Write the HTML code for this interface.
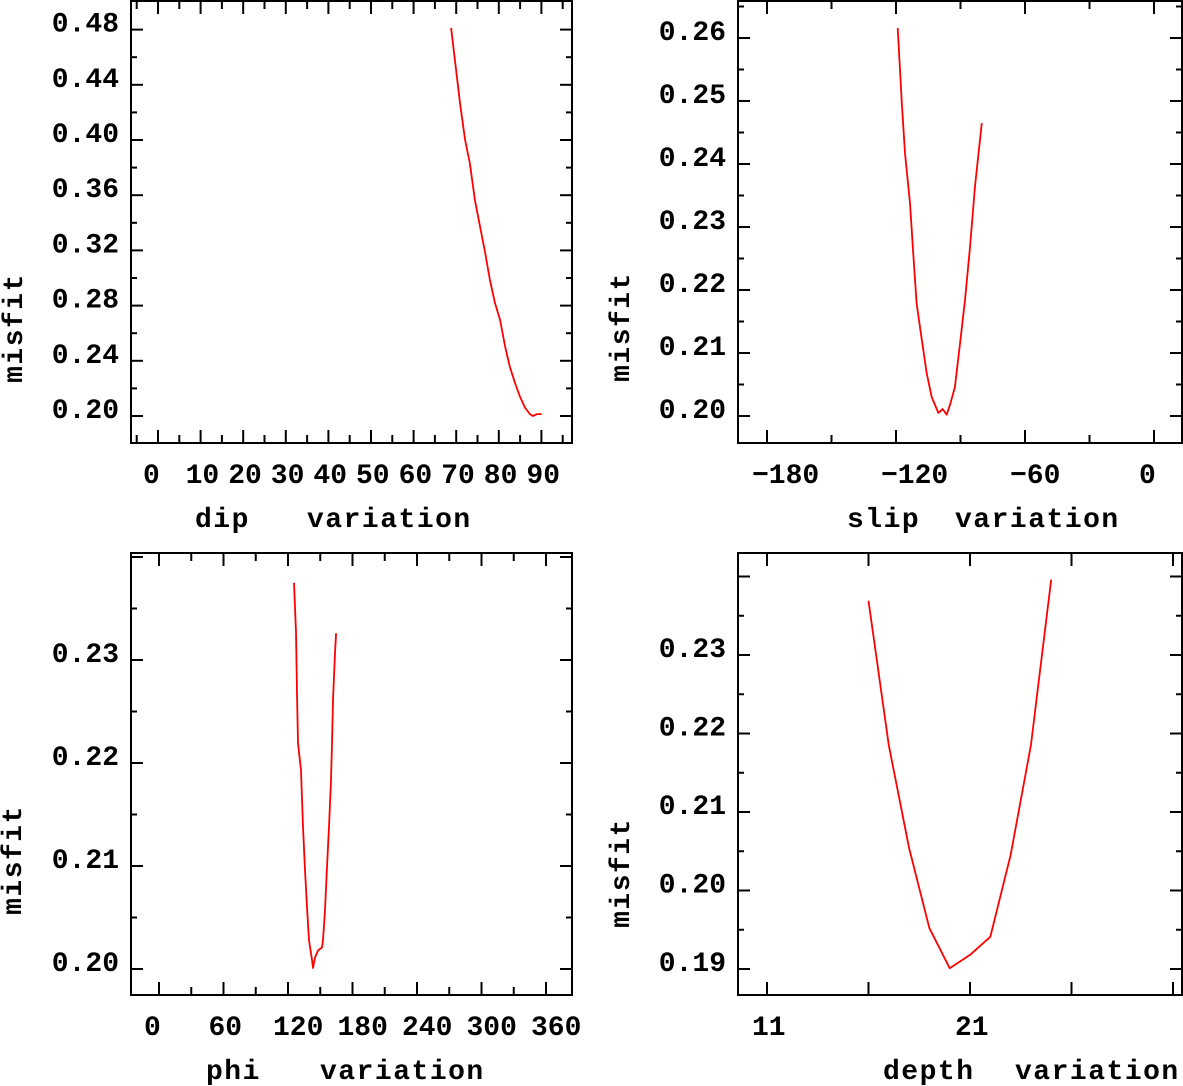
<!DOCTYPE html>
<html><head><meta charset="utf-8"><style>
html,body{margin:0;padding:0;background:#fff;}
svg{display:block;}
text{font-family:"Liberation Mono",monospace;font-weight:bold;fill:#000;}
</style></head><body>
<svg id="chart" width="1183" height="1086" viewBox="0 0 1183 1086" xmlns="http://www.w3.org/2000/svg"></svg>
<script>
// Panel 1: dip
const dipX = [68.8,69.7,70.9,72.1,73.2,74.4,75.6,76.8,77.9,79.1,80.3,81.5,82.6,83.8,85.0,86.2,87.3,88.0,89.0,90.1];
const dipY = [0.4812,0.4580,0.4268,0.4000,0.3833,0.3565,0.3370,0.3181,0.2986,0.2819,0.2696,0.2500,0.2355,0.2239,0.2138,0.2058,0.2014,0.2000,0.2014,0.2014];
const dipXTicks = ["0","10","20","30","40","50","60","70","80","90"];
const dipYTicks = ["0.20","0.24","0.28","0.32","0.36","0.40","0.44","0.48"];
// Panel 2: slip
const slipX = [-119.2,-117.3,-115.8,-113.5,-112,-110.4,-108,-105.7,-103.4,-100.3,-98.3,-96.4,-94.6,-92.6,-90.2,-87.9,-85.6,-83.3,-81.3,-80.1];
const slipY = [0.2616,0.2497,0.2417,0.2338,0.2259,0.2179,0.2121,0.2068,0.2030,0.2005,0.2011,0.2002,0.2021,0.2046,0.2116,0.2184,0.2268,0.2363,0.2427,0.2465];
const slipXTicks = ["−180","−120","−60","0"];
const slipYTicks = ["0.20","0.21","0.22","0.23","0.24","0.25","0.26"];
// Panel 3: phi
const phiX = [125.6,127.4,128.4,129.3,132.1,134,135.8,137.7,139.5,142.3,143.3,145.1,147.9,151.6,152.6,154.4,156.3,158.1,160,160.9,161.9,163.7,164.7];
const phiY = [0.2375,0.2327,0.2268,0.2219,0.2193,0.2138,0.2096,0.2060,0.2028,0.2009,0.2001,0.2011,0.2018,0.2021,0.2028,0.2057,0.2099,0.2138,0.2183,0.2219,0.2261,0.2307,0.2326];
const phiXTicks = ["0","60","120","180","240","300","360"];
const phiYTicks = ["0.20","0.21","0.22","0.23"];
// Panel 4: depth
const depthX = [16,17,18,19,20,21,22,23,24,25];
const depthY = [0.2369,0.2185,0.2054,0.1952,0.1901,0.1918,0.1941,0.2045,0.2185,0.2396];
const depthXTicks = ["11","21"];
const depthYTicks = ["0.19","0.20","0.21","0.22","0.23"];

const NS = "http://www.w3.org/2000/svg";
const svg = document.getElementById('chart');
function mk(tag, attrs, parent){
  const e = document.createElementNS(NS, tag);
  for (const k in attrs) e.setAttribute(k, attrs[k]);
  (parent||svg).appendChild(e);
  return e;
}
function num(s){ return parseFloat(s.replace('−','-')); }

function panel(p){
  const g = mk('g', {});
  
  
  const xs = v => p.x0 + (v - p.xv0) * p.xk;
  const ys = v => p.y0 - (v - p.yv0) * p.yk;
  const box = mk('rect', {x:p.L, y:p.T, width:p.R-p.L, height:p.B-p.T, fill:'none', stroke:'#000', 'stroke-width':2}, g);
  
  
  // x ticks
  for (let v = p.xMinorStart; v <= p.xMinorEnd + 1e-9; v += p.xMinor){
    const px = xs(v);
    if (px < p.L + 1 || px > p.R - 1) continue;
    const major = Math.abs(((v - p.xMajorBase) / p.xMajor) - Math.round((v - p.xMajorBase) / p.xMajor)) < 1e-6;
    const len = major ? 13 : 8;
    const t1 = mk('line', {x1:px, x2:px, y1:p.B, y2:p.B-len, stroke:'#000', 'stroke-width':2}, g);
    
    
    const t2 = mk('line', {x1:px, x2:px, y1:p.T, y2:p.T+len, stroke:'#000', 'stroke-width':2}, g);
    
    
  }
  // y ticks
  for (let v = p.yMinorStart; v <= p.yMinorEnd + 1e-9; v += p.yMinor){
    const py = ys(v);
    if (py < p.T + 1 || py > p.B - 1) continue;
    const major = Math.abs(((v - p.yv0) / p.yMajor) - Math.round((v - p.yv0) / p.yMajor)) < 1e-6;
    const len = major ? 12 : 6;
    const t1 = mk('line', {x1:p.L, x2:p.L+len, y1:py, y2:py, stroke:'#000', 'stroke-width':2}, g);
    
    
    const t2 = mk('line', {x1:p.R, x2:p.R-len, y1:py, y2:py, stroke:'#000', 'stroke-width':2}, g);
    
    
  }
  // x tick labels
  p.xTicks.forEach(s => {
    const t = mk('text', {x:xs(num(s)) - 15, y:p.B + 40, 'font-size':28}, g);
    t.textContent = s;
    
    
  });
  // y tick labels
  p.yTicks.forEach(s => {
    const t = mk('text', {x:p.L - 12, y:ys(num(s)) + 2, 'font-size':28, 'text-anchor':'end'}, g);
    t.textContent = s;
    
    
  });
  // axis titles
  const t1 = mk('text', {x:p.t1x, y:p.B + 84, 'font-size':28, 'letter-spacing':1.5}, g);
  t1.textContent = p.name;
  
  
  const t2 = mk('text', {x:p.t2x, y:p.B + 84, 'font-size':28, 'letter-spacing':1.5}, g);
  t2.textContent = 'variation';
  
  
  const yt = mk('text', {x:0, y:0, 'font-size':28, 'letter-spacing':1.5, 'text-anchor':'middle', transform:'translate(' + (p.mx+9) + ',' + p.my + ') rotate(-90)'}, g);
  yt.textContent = 'misfit';
  
  
  // series
  const pts = p.xs.map((v, i) => xs(v).toFixed(1) + ',' + ys(p.ys[i]).toFixed(1)).join(' ');
  const line = mk('polyline', {points:pts, fill:'none', stroke:'#f00', 'stroke-width':1.8, 'stroke-linejoin':'round'}, g);
  
  
}

panel({name:'dip', L:131,R:572,T:1,B:443, x0:158,xv0:0,xk:4.26, y0:416,yv0:0.20,yk:1380,
  xMinorStart:-5,xMinorEnd:95,xMinor:5,xMajor:10,xMajorBase:0,
  yMinorStart:0.18,yMinorEnd:0.50,yMinor:0.02,yMajor:0.04,
  xTicks:dipXTicks,yTicks:dipYTicks,xs:dipX,ys:dipY,t1x:195,t2x:307,mx:13,my:328});
panel({name:'slip', L:738,R:1182,T:1,B:443, x0:767,xv0:-180,xk:2.15, y0:416,yv0:0.20,yk:6300,
  xMinorStart:-210,xMinorEnd:30,xMinor:30,xMajor:60,xMajorBase:-180,
  yMinorStart:0.195,yMinorEnd:0.265,yMinor:0.005,yMajor:0.01,
  xTicks:slipXTicks,yTicks:slipYTicks,xs:slipX,ys:slipY,t1x:847,t2x:955,mx:620,my:327});
panel({name:'phi', L:131,R:572,T:553,B:995, x0:159,xv0:0,xk:1.075, y0:969,yv0:0.20,yk:10300,
  xMinorStart:-30,xMinorEnd:390,xMinor:30,xMajor:60,xMajorBase:0,
  yMinorStart:0.195,yMinorEnd:0.240,yMinor:0.005,yMajor:0.01,
  xTicks:phiXTicks,yTicks:phiYTicks,xs:phiX,ys:phiY,t1x:206,t2x:320,mx:12,my:860});
panel({name:'depth', L:738,R:1182,T:553,B:995, x0:767,xv0:11,xk:20.3, y0:969,yv0:0.19,yk:7850,
  xMinorStart:6,xMinorEnd:36,xMinor:5,xMajor:5,xMajorBase:11,
  yMinorStart:0.185,yMinorEnd:0.240,yMinor:0.005,yMajor:0.01,
  xTicks:depthXTicks,yTicks:depthYTicks,xs:depthX,ys:depthY,t1x:883,t2x:1015,mx:620,my:873});
</script>
</body></html>
